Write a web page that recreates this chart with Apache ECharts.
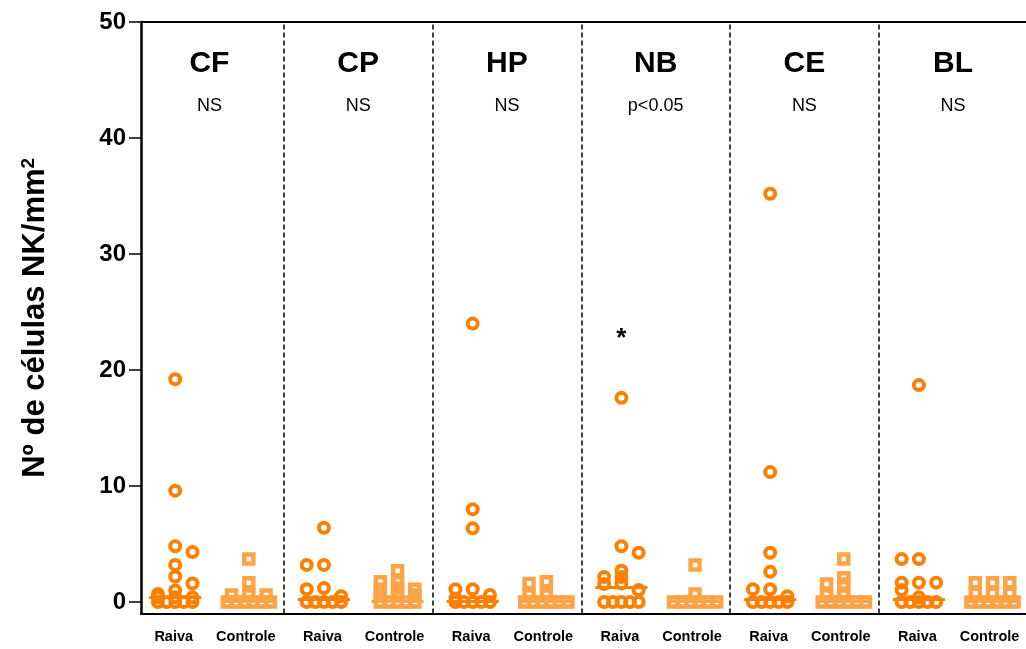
<!DOCTYPE html>
<html>
<head>
<meta charset="utf-8">
<script src="https://cdn.jsdelivr.net/npm/echarts@6/dist/echarts.min.js"></script>
<style>
  html, body { margin: 0; padding: 0; background: #fff; }
  #chart { width: 1026px; height: 649px; }
</style>
</head>
<body>
<div id="chart"></div>
<script>
// Brain regions (one panel each) and the test result printed under each name
const regions = ['CF', 'CP', 'HP', 'NB', 'CE', 'BL'];
const stats = ['NS', 'NS', 'NS', 'p<0.05', 'NS', 'NS'];
const groups = ['Raiva', 'Controle'];

// NK cells per mm² for each animal, rabies group
const raivaCF = [19.2, 9.6, 4.8, 4.3, 3.2, 2.2, 1.6, 1.0, 0.7, 0.4, 0.4, 0.4, 0, 0, 0, 0, 0];
const raivaCP = [6.4, 3.2, 3.2, 1.2, 1.1, 0.5, 0, 0, 0, 0, 0];
const raivaHP = [24.0, 8.0, 6.35, 1.1, 1.1, 0.6, 0.3, 0, 0, 0, 0, 0];
const raivaNB = [17.6, 4.8, 4.25, 2.7, 2.16, 2.16, 1.6, 1.55, 1.03, 0, 0, 0, 0, 0];
const raivaCE = [35.2, 11.2, 4.25, 2.6, 1.1, 1.1, 0.5, 0, 0, 0, 0, 0];
const raivaBL = [18.7, 3.7, 3.7, 1.67, 1.67, 1.67, 1.03, 0.4, 0, 0, 0, 0, 0];

// NK cells per mm², control group
const controleCF = [3.7, 1.67, 0.6, 0.6, 0.6, 0, 0, 0, 0, 0, 0];
const controleCP = [2.7, 1.75, 1.75, 1.2, 1.1, 1.1, 0.6, 0.6, 0.6, 0, 0, 0, 0, 0];
const controleHP = [1.75, 1.6, 0.6, 0.6, 0, 0, 0, 0, 0, 0];
const controleNB = [3.2, 0.7, 0, 0, 0, 0, 0, 0];
const controleCE = [3.7, 2.1, 1.55, 1.55, 0.6, 0.6, 0, 0, 0, 0, 0, 0];
const controleBL = [1.67, 1.67, 1.67, 0.75, 0.75, 0.75, 0, 0, 0, 0, 0, 0];

// Group medians (horizontal bars)
const medianRaiva = [0.45, 0.2, 0.1, 1.27, 0.2, 0.25];
const medianControle = [0.1, 0.1, 0.1, 0.1, 0.1, 0.1];

// Significance mark above a group: [panel index, value]
const asterisk = [3, 22.7];

const yTicks = [0, 10, 20, 30, 40, 50];

const raivaData = [raivaCF, raivaCP, raivaHP, raivaNB, raivaCE, raivaBL];
const controleData = [controleCF, controleCP, controleHP, controleNB, controleCE, controleBL];

const RAIVA_POS = 0.27, CONTROLE_POS = 0.765;   // column centres inside a panel
const LABEL_POS = [0.26, 0.745];
const STEP = 0.058;                              // horizontal spacing of tied points

// Spread equal values sideways, the way a column scatter plot does
function spread(values, center) {
  const sorted = values.slice().sort((a, b) => b - a);
  const rows = [];
  sorted.forEach(v => {
    const last = rows[rows.length - 1];
    if (last && Math.abs(last[0] - v) < 0.25) last.push(v); else rows.push([v]);
  });
  const placed = [];
  const few = [0, -2, 2];
  rows.forEach(row => {
    const n = row.length;
    row.forEach((v, j) => {
      let off = n <= 3 ? few[j] : (j - (n - 1) / 2);
      if (n === 1) {
        const hits = o => placed.some(p => Math.abs(p[0] - (center + o * STEP)) < STEP * 0.9 && Math.abs(p[1] - v) < 0.95);
        if (hits(0)) off = hits(2) ? -2 : 2;
      }
      placed.push([center + off * STEP, v]);
    });
  });
  return placed;
}

const raivaPts = [], controlePts = [];
regions.forEach((r, i) => {
  spread(raivaData[i], i + RAIVA_POS).forEach(p => raivaPts.push(p));
  spread(controleData[i], i + CONTROLE_POS).forEach(p => controlePts.push(p));
});

const HALF = 0.175;
const medianLines = (meds, pos) => meds.map((m, i) => [
  { coord: [i + pos - HALF, m] }, { coord: [i + pos + HALF, m] }
]);

const labelTicks = [];
regions.forEach((r, i) => { labelTicks.push(i + LABEL_POS[0], i + LABEL_POS[1]); });

// Text items placed in data space: [x, y, text, size, weight]
const texts = [];
regions.forEach((r, i) => texts.push([i + 0.5, 46.4, r, 30, 'bold']));
stats.forEach((s, i) => texts.push([i + 0.5, 42.75, s, 18, 'normal']));
texts.push([asterisk[0] + RAIVA_POS, asterisk[1], '*', 26, 'bold']);

const ORANGE = '#FF8000';
const LIGHT = '#FFA347';
const FONT = '"Liberation Sans", Arial, Helvetica, sans-serif';
const X_MIN = 0.04, X_MAX = 5.99;

const chart = echarts.init(document.getElementById('chart'), null, { renderer: 'canvas' });
chart.setOption({
  animation: false,
  backgroundColor: '#fff',
  textStyle: { fontFamily: FONT },
  grid: { left: 141, right: 0, top: 22, bottom: 35.4, outerBoundsMode: 'none' },
  xAxis: [{
    type: 'value', min: X_MIN, max: X_MAX, position: 'bottom',
    axisLine: { onZero: false, lineStyle: { color: '#000', width: 2 } },
    axisTick: { show: false },
    splitLine: { show: false },
    axisLabel: {
      customValues: labelTicks,
      formatter: v => (v - Math.floor(v)) < 0.5 ? groups[0] : groups[1],
      color: '#000', fontWeight: 'bold', fontSize: 14.5, margin: 16, fontFamily: FONT
    }
  }, {
    type: 'value', min: X_MIN, max: X_MAX, position: 'top',
    axisLine: { show: true, onZero: false, lineStyle: { color: '#000', width: 2 } },
    axisTick: { show: false }, axisLabel: { show: false }, splitLine: { show: false }
  }],
  yAxis: {
    type: 'value', min: -1, max: 50,
    name: 'Nº de células NK/mm{sup|2}',
    nameLocation: 'middle', nameRotate: 90, nameGap: 89,
    nameTextStyle: {
      fontSize: 31, fontWeight: 'bold', color: '#000', fontFamily: FONT,
      rich: { sup: { fontSize: 19, fontWeight: 'bold', color: '#000', verticalAlign: 'top', padding: [0, 0, 14, 0], fontFamily: FONT } }
    },
    axisLine: { show: true, onZero: false, lineStyle: { color: '#000', width: 2.5 } },
    axisTick: { show: true, customValues: yTicks, length: 12, inside: false, lineStyle: { color: '#000', width: 1.5 } },
    axisLabel: { customValues: yTicks, color: '#000', fontWeight: 'bold', fontSize: 24, margin: 15, fontFamily: FONT },
    splitLine: { show: false }
  },
  series: [
    {
      name: 'Controle', type: 'scatter', symbol: 'rect', symbolSize: 9,
      data: controlePts,
      itemStyle: { color: 'rgba(0,0,0,0)', borderColor: LIGHT, borderWidth: 4.5, opacity: 1 },
      markLine: {
        silent: true, symbol: ['none', 'none'], label: { show: false },
        lineStyle: { color: LIGHT, width: 3, type: 'solid' },
        data: medianLines(medianControle, CONTROLE_POS)
      },
      z: 3
    },
    {
      name: 'Raiva', type: 'scatter', symbol: 'circle', symbolSize: 10,
      data: raivaPts,
      itemStyle: { color: 'rgba(0,0,0,0)', borderColor: ORANGE, borderWidth: 4, opacity: 1 },
      markLine: {
        silent: true, symbol: ['none', 'none'], label: { show: false },
        lineStyle: { color: ORANGE, width: 3, type: 'solid' },
        data: medianLines(medianRaiva, RAIVA_POS)
      },
      z: 4
    },
    {
      // dashed panel separators
      type: 'scatter', data: [], silent: true,
      markLine: {
        silent: true, symbol: ['none', 'none'], label: { show: false },
        lineStyle: { color: '#000', width: 1.5, type: [5, 3] },
        data: regions.slice(1).map((r, i) => ({ xAxis: i + 1 }))
      }
    },
    {
      // region names, test results and the significance mark
      type: 'custom', silent: true,
      data: texts,
      renderItem: (params, api) => {
        const d = texts[params.dataIndex];
        const pt = api.coord([d[0], d[1]]);
        return {
          type: 'text', x: pt[0], y: pt[1],
          style: {
            text: d[2], fill: '#000', font: d[4] + ' ' + d[3] + 'px ' + FONT,
            align: 'center', verticalAlign: 'middle'
          }
        };
      },
      z: 5
    }
  ]
});
</script>
</body>
</html>
